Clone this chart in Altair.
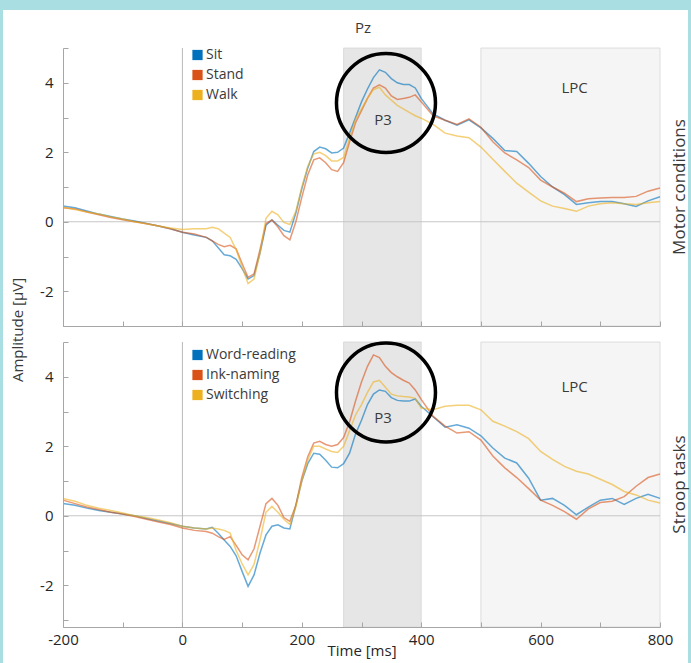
import altair as alt
import pandas as pd

# ---- time axis (ms) ----
time_ms = ([-200, -180, -160, -140, -120, -100, -80, -60, -40, -20, 0, 20, 40]
           + list(range(50, 401, 10))
           + list(range(420, 801, 20)))

# ---- grand-average ERP at Pz (µV): motor conditions ----
sit = [0.45, 0.40, 0.31, 0.22, 0.15, 0.08, 0.02, -0.05, -0.12, -0.20, -0.30, -0.38, -0.45,
       -0.55, -0.75, -0.95, -0.98, -1.08, -1.35, -1.65, -1.55, -0.90, -0.10, 0.05, -0.10,
       -0.25, -0.30, 0.25, 0.95, 1.55, 2.02, 2.15, 2.10, 1.98, 2.00, 2.12, 2.55, 3.00, 3.45,
       3.82, 4.15, 4.37, 4.30, 4.12, 4.00, 3.95, 3.95, 3.85, 3.55,
       3.10, 2.92, 2.78, 2.93, 2.70, 2.40, 2.05, 2.02, 1.68, 1.30, 1.00, 0.78, 0.50, 0.55,
       0.58, 0.58, 0.52, 0.44, 0.60, 0.72]
stand = [0.40, 0.37, 0.28, 0.20, 0.12, 0.06, 0.00, -0.06, -0.12, -0.20, -0.30, -0.35, -0.45,
         -0.55, -0.65, -0.72, -0.68, -0.78, -1.20, -1.60, -1.50, -0.80, -0.05, 0.05, -0.15,
         -0.40, -0.52, 0.00, 0.70, 1.35, 1.78, 1.84, 1.70, 1.50, 1.45, 1.70, 2.30, 2.85, 3.20,
         3.55, 3.85, 3.94, 3.85, 3.62, 3.52, 3.55, 3.58, 3.65, 3.45,
         3.05, 2.92, 2.80, 2.96, 2.72, 2.30, 1.98, 1.78, 1.56, 1.20, 1.00, 0.82, 0.58, 0.66,
         0.68, 0.70, 0.70, 0.73, 0.88, 0.97]
walk = [0.42, 0.35, 0.28, 0.22, 0.14, 0.08, 0.00, -0.06, -0.12, -0.18, -0.22, -0.20, -0.20,
        -0.16, -0.20, -0.33, -0.45, -0.80, -1.30, -1.78, -1.65, -0.90, 0.10, 0.30, 0.20,
        -0.02, -0.08, 0.30, 1.00, 1.60, 1.95, 2.00, 1.90, 1.75, 1.75, 1.85, 2.40, 2.95, 3.25,
        3.55, 3.80, 3.87, 3.65, 3.50, 3.35, 3.25, 3.15, 3.05, 2.98,
        2.80, 2.55, 2.47, 2.42, 2.15, 1.80, 1.45, 1.11, 0.85, 0.60, 0.45, 0.38, 0.30, 0.45,
        0.52, 0.55, 0.52, 0.50, 0.55, 0.58]

# ---- grand-average ERP at Pz (µV): Stroop tasks ----
word_reading = [0.35, 0.30, 0.22, 0.15, 0.10, 0.05, 0.00, -0.08, -0.15, -0.22, -0.30, -0.35, -0.38,
                -0.33, -0.50, -0.70, -0.88, -1.15, -1.60, -2.03, -1.70, -1.07, -0.55, -0.30, -0.26,
                -0.35, -0.38, 0.30, 1.00, 1.50, 1.80, 1.77, 1.60, 1.40, 1.38, 1.50, 1.80, 2.35, 2.75,
                3.20, 3.50, 3.62, 3.58, 3.40, 3.32, 3.30, 3.30, 3.36, 3.15,
                2.85, 2.55, 2.62, 2.52, 2.30, 1.95, 1.66, 1.52, 1.08, 0.45, 0.50, 0.30, 0.03, 0.25,
                0.45, 0.50, 0.33, 0.50, 0.62, 0.50]
ink_naming = [0.45, 0.35, 0.25, 0.18, 0.10, 0.05, -0.02, -0.10, -0.18, -0.25, -0.35, -0.42, -0.45,
              -0.50, -0.60, -0.68, -0.60, -0.85, -1.12, -1.27, -0.95, -0.30, 0.35, 0.50, 0.30,
              -0.05, -0.16, 0.30, 1.10, 1.70, 2.09, 2.14, 2.05, 2.00, 2.05, 2.25, 2.70, 3.30, 3.85,
              4.30, 4.63, 4.55, 4.30, 4.12, 4.00, 3.90, 3.82, 3.62, 3.35,
              2.86, 2.58, 2.38, 2.42, 2.18, 1.72, 1.38, 1.10, 0.78, 0.45, 0.30, 0.12, -0.10, 0.20,
              0.38, 0.42, 0.55, 0.85, 1.10, 1.20]
switching = [0.50, 0.42, 0.30, 0.22, 0.15, 0.08, 0.00, -0.05, -0.12, -0.20, -0.30, -0.35, -0.38,
             -0.35, -0.38, -0.42, -0.50, -1.00, -1.38, -1.70, -1.40, -0.70, 0.10, 0.27, 0.10,
             -0.10, -0.25, 0.25, 1.00, 1.60, 2.00, 2.00, 1.92, 1.85, 1.82, 2.00, 2.45, 2.90, 3.20,
             3.55, 3.85, 3.90, 3.70, 3.50, 3.45, 3.43, 3.42, 3.38, 3.10,
             3.05, 3.15, 3.18, 3.18, 3.05, 2.72, 2.58, 2.42, 2.22, 1.85, 1.62, 1.42, 1.28, 1.20,
             1.05, 0.90, 0.70, 0.60, 0.45, 0.37]

motor_names = ["Sit", "Stand", "Walk"]
stroop_names = ["Word-reading", "Ink-naming", "Switching"]
palette = ["#0072BD", "#D95319", "#EDB120"]

# analysis windows (ms)
window_names = ["P3", "LPC"]
window_start = [270, 500]
window_end = [400, 800]
window_fill = ["#e6e6e6", "#f5f5f5"]

# annotation anchors (time ms, amplitude µV)
ring_time = 341
ring_amp_motor = 3.42
ring_amp_stroop = 3.55
label_time = [336, 657]
label_amp_motor = [2.94, 3.86]
label_amp_stroop = [2.82, 3.71]

FONT = "Open Sans"
TEXT = "#3a3a3a"
W = 597

for s in (sit, stand, walk, word_reading, ink_naming, switching):
    assert len(s) == len(time_ms)


def long_table(names, series):
    rows = []
    for name, values in zip(names, series):
        for t, v in zip(time_ms, values):
            rows.append({"time": t, "amp": v, "cond": name})
    return pd.DataFrame(rows)


x_scale = alt.Scale(domain=[-200, 800], nice=False, zero=False)
INWARD = {"expr": "-5"}


def key_box(names, top_px):
    """Inline key: coloured squares with condition names, one row each."""
    keys = pd.DataFrame({"cond": names})
    rows = alt.Y("cond:N", sort=names, axis=None,
                 scale=alt.Scale(type="point", domain=names, padding=0,
                                 range=[top_px, top_px + 40]))
    colour = alt.Color("cond:N", scale=alt.Scale(domain=names, range=palette), legend=None)
    squares = alt.Chart(keys).mark_square(size=105, filled=True, opacity=1).encode(
        x=alt.value(134.5), y=rows, color=colour)
    labels = alt.Chart(keys).mark_text(font=FONT, fontSize=14, color=TEXT, align="left",
                                       baseline="middle").encode(
        x=alt.value(143), y=rows, text="cond:N")
    return alt.layer(squares, labels)


def panel(names, series, y_min, height, ring_amp, label_amp, side_text,
          bottom, key_top, decor):
    y_scale = alt.Scale(domain=[y_min, 5], nice=False, zero=False)
    x_axis = alt.Axis(
        values=list(range(-200, 801, 100)),
        labelExpr="datum.value % 200 == 0 ? '' + datum.value : ''",
        labels=bottom, title="Time [ms]" if bottom else None,
        tickSize=INWARD, labelPadding=10, titlePadding=-4,
        labelFlush=False, zindex=1,
    )
    y_axis = alt.Axis(
        values=list(range(-3, 6)),
        labelExpr="datum.value % 2 == 0 ? '' + datum.value : ''",
        title=None, tickSize=INWARD, labelPadding=15, zindex=1,
    )
    X = alt.X("time:Q", scale=x_scale, axis=x_axis)
    Y = alt.Y("amp:Q", scale=y_scale, axis=y_axis)

    layers = []
    if decor:
        # white sheet behind both panels
        layers.append(
            alt.Chart(pd.DataFrame({"k": [0]})).mark_rect(color="white").encode(
                x=alt.value(-60), x2=alt.value(625),
                y=alt.value(-38), y2=alt.value(615))
        )

    windows = pd.DataFrame({"name": window_names, "start": window_start,
                            "end": window_end, "fill": window_fill})
    layers.append(
        alt.Chart(windows).mark_rect(stroke="#d6d6d6", strokeWidth=0.8).encode(
            x=alt.X("start:Q", scale=x_scale, axis=x_axis), x2="end:Q",
            y=alt.value(0), y2=alt.value(height),
            color=alt.Color("fill:N", scale=None))
    )
    layers.append(
        alt.Chart(pd.DataFrame({"amp": [0]})).mark_rule(color="#c6c6c6", strokeWidth=1)
        .encode(y=alt.Y("amp:Q", scale=y_scale, axis=y_axis))
    )
    layers.append(
        alt.Chart(pd.DataFrame({"time": [0]})).mark_rule(color="#b8b8b8", strokeWidth=1)
        .encode(x=alt.X("time:Q", scale=x_scale, axis=x_axis))
    )
    layers.append(
        alt.Chart(long_table(names, series)).mark_line(strokeWidth=1.5, strokeOpacity=0.6)
        .encode(x=X, y=Y,
                stroke=alt.Stroke("cond:N", scale=alt.Scale(domain=names, range=palette),
                                  legend=None),
                order="time:Q")
    )
    layers.append(
        alt.Chart(pd.DataFrame({"time": [ring_time], "amp": [ring_amp]}))
        .mark_point(shape="circle", size=9800, filled=False, color="black",
                    strokeWidth=3.5, opacity=1)
        .encode(x=X, y=Y)
    )
    layers.append(
        alt.Chart(pd.DataFrame({"time": label_time, "amp": label_amp, "txt": window_names}))
        .mark_text(font=FONT, fontSize=15, color=TEXT)
        .encode(x=X, y=Y, text="txt:N")
    )
    layers.append(
        alt.Chart(pd.DataFrame({"txt": [side_text]}))
        .mark_text(font=FONT, fontSize=17, color=TEXT, angle=270)
        .encode(x=alt.value(W + 20), y=alt.value(height / 2), text="txt:N")
    )
    if decor:
        layers.append(
            alt.Chart(pd.DataFrame({"txt": ["Pz"]}))
            .mark_text(font=FONT, fontSize=15, color=TEXT)
            .encode(x=alt.value(300), y=alt.value(-20), text="txt:N")
        )
        layers.append(
            alt.Chart(pd.DataFrame({"txt": ["Amplitude [µV]"]}))
            .mark_text(font=FONT, fontSize=15, color=TEXT, angle=270)
            .encode(x=alt.value(-45), y=alt.value(282), text="txt:N")
        )
    main = alt.layer(*layers)
    return (alt.layer(main, key_box(names, key_top))
            .resolve_scale(y="independent", color="independent")
            .properties(width=W, height=height))


top = panel(motor_names, [sit, stand, walk], -3, 278, ring_amp_motor, label_amp_motor,
            "Motor conditions", False, 7, True)
bottom = panel(stroop_names, [word_reading, ink_naming, switching], -3.2, 285,
               ring_amp_stroop, label_amp_stroop, "Stroop tasks", True, 13, False)

chart = (
    alt.vconcat(top, bottom, spacing=16, bounds="flush")
    .resolve_scale(color="independent", stroke="independent", x="independent", y="independent")
    .properties(padding={"left": 3, "top": 10, "right": 3, "bottom": 0},
                background="#a9dee2")
    .configure_view(stroke=None)
    .configure_axis(domainColor="#a6a6a6", tickColor="#a6a6a6", labelColor="#262626",
                    labelFont=FONT, labelFontSize=15, titleFont=FONT, titleFontSize=15,
                    titleColor="#262626", titleFontWeight="normal", grid=False)
)

chart.save("out.html", embed_options={"renderer": "svg", "actions": False})
